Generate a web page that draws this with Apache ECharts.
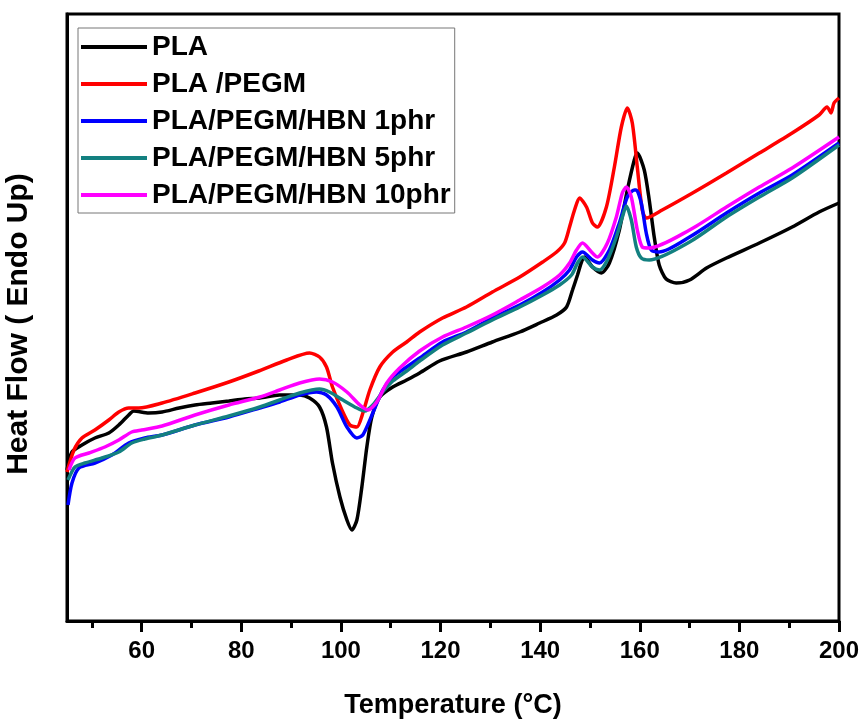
<!DOCTYPE html>
<html>
<head>
<meta charset="utf-8">
<title>DSC curves</title>
<script src="https://cdn.jsdelivr.net/npm/echarts@6.0.0/dist/echarts.min.js"></script>
<style>
html, body { margin: 0; padding: 0; background: #fff; }
#dsc { width: 862px; height: 719px; }
</style>
</head>
<body>
<div id="dsc"></div>
<script>
// temperature (°C), heat flow (arbitrary units, endo up)
var seriesNames = ['PLA', 'PLA /PEGM', 'PLA/PEGM/HBN 1phr', 'PLA/PEGM/HBN 5phr', 'PLA/PEGM/HBN 10phr'];
var seriesColors = ['#000000', '#ff0000', '#0000ff', '#138080', '#ff00ff'];
var majorTicks = [60, 80, 100, 120, 140, 160, 180, 200];
var minorTicks = [50, 70, 90, 110, 130, 150, 170, 190];

var pla = [
  [45.0, 15.1], [46.0, 16.9], [48.0, 17.6], [50.6, 18.3], [53.4, 18.8], [55.4, 19.6],
  [57.4, 20.6], [58.4, 21.0], [61.4, 20.8], [64.1, 20.9], [67.5, 21.3], [70.7, 21.6],
  [74.1, 21.8], [77.5, 22.0], [80.7, 22.2], [83.7, 22.3], [87.7, 22.6], [91.7, 22.6],
  [93.7, 22.3], [95.7, 21.4], [97.1, 19.4], [98.3, 15.8], [99.8, 12.4], [101.2, 10.1],
  [102.2, 9.1], [103.2, 10.1], [104.2, 13.4], [105.2, 17.4], [106.2, 20.4], [107.8, 22.4],
  [110.4, 23.4], [113.2, 24.1], [115.8, 24.8], [119.8, 26.0], [125.2, 26.9], [130.4, 27.9],
  [135.9, 28.9], [139.9, 29.8], [143.3, 30.6], [145.3, 31.4], [146.5, 33.1], [147.5, 34.6],
  [148.3, 35.9], [148.9, 36.4], [150.5, 35.4], [152.3, 34.8], [153.9, 35.8], [155.9, 39.1],
  [157.5, 43.1], [158.9, 46.1], [159.5, 46.8], [160.9, 45.1], [161.9, 42.1], [162.9, 38.4],
  [163.9, 35.6], [165.3, 34.2], [167.3, 33.8], [170.0, 34.1], [173.4, 35.3], [177.4, 36.3],
  [184.0, 37.8], [190.6, 39.4], [196.0, 40.9], [200.0, 41.8]
];
var plaPegm = [
  [45.0, 14.9], [46.4, 17.1], [48.0, 18.3], [50.6, 19.1], [53.4, 20.1], [55.4, 20.9],
  [57.4, 21.3], [59.4, 21.3], [64.1, 21.8], [70.7, 22.8], [77.5, 23.9], [83.5, 25.0],
  [89.1, 26.1], [93.7, 26.8], [95.7, 26.4], [97.1, 25.4], [98.3, 23.4], [100.2, 21.1],
  [101.8, 19.6], [103.2, 19.4], [104.4, 20.8], [105.8, 23.1], [107.8, 25.4], [110.4, 26.9],
  [113.2, 27.9], [115.8, 28.9], [120.4, 30.3], [125.2, 31.4], [130.4, 32.9], [135.9, 34.4],
  [140.5, 35.9], [143.3, 36.9], [144.9, 37.8], [145.9, 39.4], [146.9, 41.1], [147.9, 42.3],
  [149.3, 41.4], [150.5, 39.8], [151.5, 39.4], [153.3, 41.4], [154.9, 45.4], [156.3, 49.4],
  [157.5, 51.3], [158.5, 49.8], [159.5, 45.4], [160.5, 41.1], [161.3, 40.3], [164.5, 41.1],
  [170.6, 42.8], [177.4, 44.8], [184.0, 46.8], [190.6, 48.8], [196.0, 50.6], [197.6, 51.4],
  [198.4, 50.8], [199.0, 51.8], [200.0, 52.3]
];
var hbn1 = [
  [45.2, 11.6], [46.0, 13.8], [47.4, 15.3], [50.6, 15.8], [54.0, 16.6], [57.4, 17.8],
  [60.6, 18.3], [64.1, 18.6], [70.7, 19.6], [77.5, 20.4], [83.7, 21.3], [87.7, 21.9],
  [91.7, 22.6], [95.1, 22.9], [97.1, 22.6], [99.2, 21.4], [101.2, 19.4], [103.2, 18.3],
  [104.4, 18.6], [106.4, 20.8], [108.4, 23.1], [110.4, 24.4], [113.2, 25.4], [115.8, 26.3],
  [120.4, 27.9], [125.2, 28.9], [130.4, 30.3], [135.9, 31.6], [140.5, 32.9], [143.9, 34.1],
  [145.9, 35.1], [147.3, 36.4], [148.5, 36.9], [150.5, 36.1], [151.9, 35.8], [153.9, 37.1],
  [155.9, 39.8], [157.5, 42.4], [158.9, 43.1], [159.3, 43.1], [160.3, 41.8], [161.3, 38.8],
  [162.3, 37.1], [163.9, 36.9], [170.0, 38.4], [177.4, 40.8], [184.0, 42.8], [190.6, 44.6],
  [200.0, 47.8]
];
var hbn5 = [
  [45.2, 14.1], [46.6, 15.4], [48.6, 15.8], [52.0, 16.3], [55.4, 16.9], [58.0, 17.8],
  [60.6, 18.2], [64.1, 18.6], [70.7, 19.6], [77.5, 20.5], [83.7, 21.4], [87.7, 22.1],
  [91.7, 22.8], [95.7, 23.2], [97.7, 22.9], [100.4, 22.1], [103.2, 21.3], [104.8, 21.0],
  [106.4, 21.6], [108.4, 22.9], [110.4, 24.0], [113.2, 25.0], [115.8, 26.0], [120.4, 27.6],
  [125.2, 28.8], [130.4, 30.1], [135.9, 31.4], [140.5, 32.6], [143.9, 33.6], [146.3, 34.6],
  [147.5, 35.8], [148.5, 36.4], [150.5, 35.4], [151.9, 35.1], [153.5, 36.1], [155.3, 38.4],
  [156.5, 40.4], [157.3, 41.5], [158.3, 40.1], [159.3, 37.4], [160.3, 36.3], [161.9, 36.1],
  [170.0, 37.9], [177.4, 40.4], [184.0, 42.4], [190.6, 44.3], [200.0, 47.6]
];
var hbn10 = [
  [45.4, 15.1], [46.6, 16.3], [49.4, 16.8], [52.6, 17.4], [55.4, 18.1], [58.0, 18.9],
  [60.0, 19.1], [64.1, 19.5], [70.7, 20.6], [77.5, 21.6], [83.7, 22.4], [87.7, 23.1],
  [91.7, 23.8], [95.7, 24.2], [98.3, 23.9], [101.2, 22.9], [103.8, 21.6], [105.4, 21.1],
  [107.2, 21.9], [109.2, 23.8], [111.8, 25.3], [115.8, 27.0], [120.4, 28.4], [125.2, 29.4],
  [130.4, 30.6], [135.9, 32.1], [140.5, 33.4], [143.9, 34.6], [145.9, 35.8], [147.3, 37.1],
  [148.5, 37.8], [150.5, 36.8], [151.5, 36.4], [153.5, 37.8], [155.3, 40.4], [156.5, 42.8],
  [157.3, 43.4], [158.3, 42.4], [159.5, 39.1], [160.5, 37.4], [161.9, 37.3], [170.0, 39.1],
  [177.4, 41.4], [184.0, 43.4], [190.6, 45.3], [200.0, 48.4]
];
var seriesData = [pla, plaPegm, hbn1, hbn5, hbn10];

var FONT = 'Liberation Sans, Arial, sans-serif';

var chart = echarts.init(document.getElementById('dsc'), null, { renderer: 'canvas' });

var series = [];
for (var i = 0; i < seriesNames.length; i++) {
  series.push({
    name: seriesNames[i],
    type: 'line',
    data: seriesData[i],
    xAxisIndex: 0,
    symbol: 'none',
    smooth: 0.25,
    lineStyle: { color: seriesColors[i], width: 3.5 },
    itemStyle: { color: seriesColors[i] },
    silent: true
  });
}

var option = {
  backgroundColor: '#ffffff',
  animation: false,
  grid: {
    left: 67, right: 23, top: 14, bottom: 98,
    outerBoundsMode: 'none',
    containLabel: false,
    show: true,
    borderColor: '#000',
    borderWidth: 3
  },
  legend: {
    orient: 'vertical',
    left: 78, top: 28,
    padding: [4, 4, 3, 3],
    icon: 'rect',
    itemWidth: 66,
    itemHeight: 4,
    itemGap: 7,
    borderColor: '#777',
    borderWidth: 1,
    data: seriesNames,
    textStyle: { fontFamily: FONT, fontWeight: 'bold', fontSize: 28, lineHeight: 30, color: '#000' }
  },
  xAxis: [{
    type: 'value',
    min: 45, max: 200,
    name: 'Temperature (°C)',
    nameLocation: 'middle',
    nameGap: 71,
    nameTextStyle: { fontFamily: FONT, fontWeight: 'bold', fontSize: 27, color: '#000' },
    splitLine: { show: false },
    axisLine: { show: true, lineStyle: { color: '#000', width: 3 } },
    axisTick: { show: true, inside: false, length: 11, lineStyle: { width: 3, color: '#000' }, customValues: majorTicks },
    axisLabel: { customValues: majorTicks, margin: 18, fontFamily: FONT, fontWeight: 'bold', fontSize: 24, color: '#000' }
  }, {
    type: 'value',
    min: 45, max: 200,
    position: 'bottom',
    offset: 0,
    splitLine: { show: false },
    axisLine: { show: false },
    axisTick: { show: true, inside: false, length: 7, lineStyle: { width: 3, color: '#000' }, customValues: minorTicks },
    axisLabel: { show: false }
  }],
  yAxis: {
    type: 'value',
    min: 0, max: 60.7,
    name: 'Heat Flow ( Endo Up)',
    nameLocation: 'middle',
    nameGap: 33,
    nameRotate: 90,
    nameTextStyle: { fontFamily: FONT, fontWeight: 'bold', fontSize: 30, color: '#000', padding: [0, 13, 0, 0] },
    splitLine: { show: false },
    axisLine: { show: true, lineStyle: { color: '#000', width: 3 } },
    axisTick: { show: false },
    axisLabel: { show: false }
  },
  series: series
};

chart.setOption(option);
</script>
</body>
</html>
